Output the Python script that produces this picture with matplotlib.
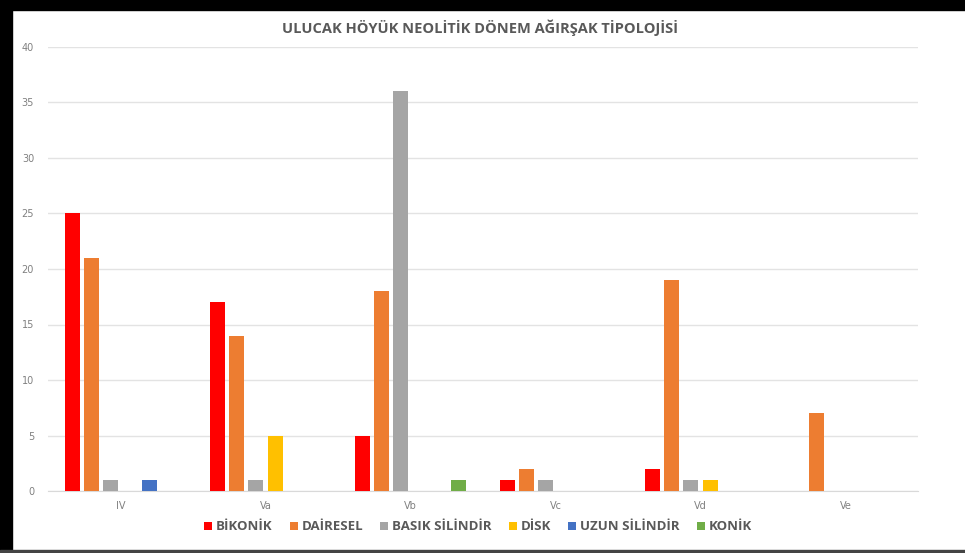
import numpy as np
import matplotlib.pyplot as plt
from matplotlib.patches import Rectangle

# Data
periods = ["IV", "Va", "Vb", "Vc", "Vd", "Ve"]
types = ["BİKONİK", "DAİRESEL", "BASIK SİLİNDİR", "DİSK", "UZUN SİLİNDİR", "KONİK"]
bikonik = [25, 17, 5, 1, 2, 0]
dairesel = [21, 14, 18, 2, 19, 7]
basik = [1, 1, 36, 1, 1, 0]
disk = [0, 5, 0, 0, 1, 0]
uzun = [1, 0, 0, 0, 0, 0]
konik = [0, 0, 1, 0, 0, 0]
series = [bikonik, dairesel, basik, disk, uzun, konik]
colors = ["#FF0000", "#ED7D31", "#A5A5A5", "#FFC000", "#4472C4", "#70AD47"]

W, H = 965, 553
fig = plt.figure(figsize=(W / 100, H / 100), dpi=100)
fig.patch.set_facecolor("white")

# black screenshot frame
fig.patches.append(Rectangle((0, 1 - 10 / H), 1, 10 / H, transform=fig.transFigure, color="black", zorder=5))
fig.patches.append(Rectangle((0, 0), 12 / W, 1, transform=fig.transFigure, color="black", zorder=5))
fig.patches.append(Rectangle((0, 0), 1, 3 / H, transform=fig.transFigure, color="#444444", zorder=5))

ax = fig.add_axes([48 / W, (H - 491) / H, (918 - 48) / W, (491 - 47) / H])

x = np.arange(len(periods))
slot = 0.1324
bw = 0.103
for i, (vals, c, name) in enumerate(zip(series, colors, types)):
    ax.bar(x + (i - 2.5) * slot, vals, width=bw, color=c, label=name, zorder=3)

ax.set_xlim(-0.5, len(periods) - 0.5)
ax.set_ylim(0, 40)
ax.set_yticks(range(0, 41, 5))
ax.set_xticks(x)
ax.set_xticklabels(periods)
ax.tick_params(length=0, labelsize=7, colors="#808080")
ax.tick_params(axis="y", pad=10)
ax.tick_params(axis="x", pad=7)
ax.yaxis.grid(True, color="#E3E3E3", linewidth=1)
ax.set_axisbelow(True)
for s in ["top", "right", "left"]:
    ax.spines[s].set_visible(False)
ax.spines["bottom"].set_color("#D9D9D9")

fig.text(0.5 - 3 / W, 1 - 28 / H, "ULUCAK HÖYÜK NEOLİTİK DÖNEM AĞIRŞAK TİPOLOJİSİ",
         ha="center", va="center", fontsize=10.5, fontweight="bold",
         color="#595959", family="Open Sans")

leg = fig.legend(loc="center", bbox_to_anchor=(478 / W, 1 - 527 / H), ncol=6,
                 frameon=False, handlelength=0.6, handleheight=0.6,
                 handletextpad=0.3, columnspacing=1.3,
                 prop={"family": "Open Sans", "weight": "bold", "size": 9.5})
for t in leg.get_texts():
    t.set_color("#595959")

fig.savefig("out.png", dpi=100)
